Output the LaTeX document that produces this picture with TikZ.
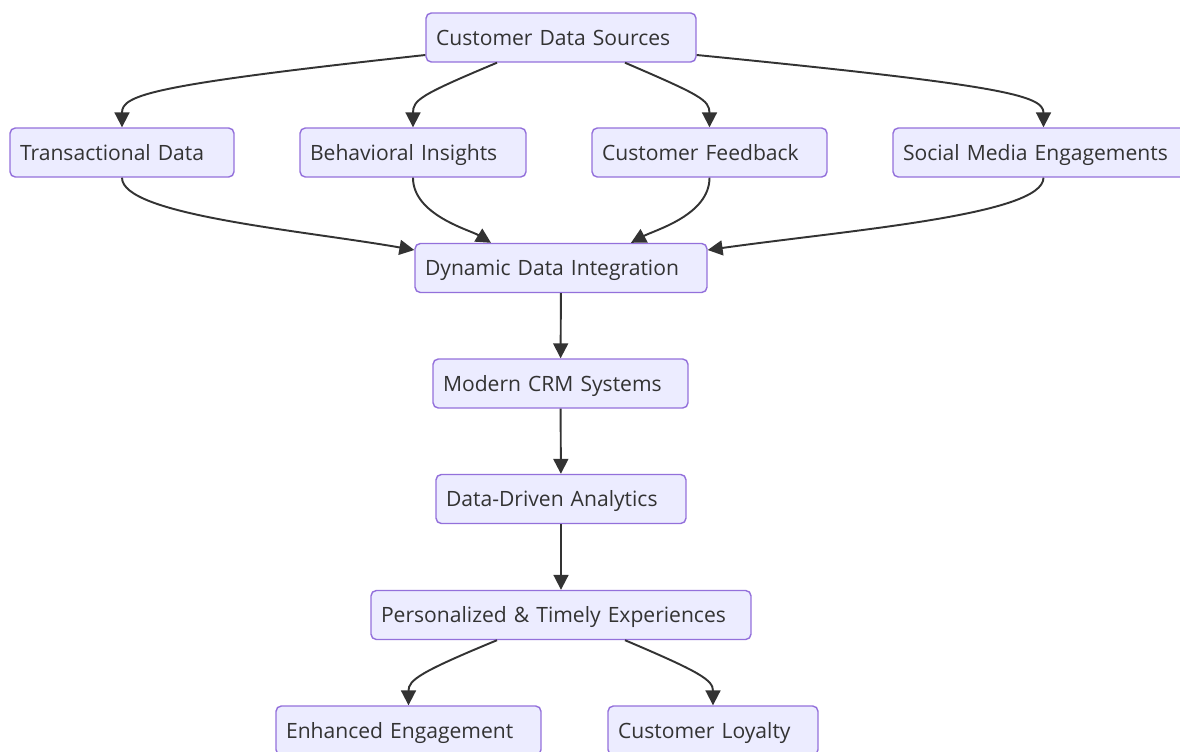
\documentclass[tikz,border=0pt]{standalone}
\usepackage{fontspec}
\setmainfont{Open Sans}
\usepackage{tikz}
\usetikzlibrary{arrows.meta,calc}
\definecolor{boxfill}{HTML}{ECECFF}
\definecolor{boxline}{HTML}{9370DB}
\definecolor{inkgray}{HTML}{333333}

\begin{document}
\begin{tikzpicture}[x=0.02cm, y=-0.02cm,
    blk/.style={rectangle, rounded corners=3pt, draw=boxline, line width=0.8pt, fill=boxfill,
        text=inkgray, font=\fontsize{12}{14}\selectfont, inner xsep=0.2cm, inner ysep=0pt,
        minimum height=0.98cm, align=left, text width=#1, text height=2ex, text depth=0.4ex},
    flow/.style={draw=inkgray, line width=1.1pt, -{Triangle[length=8.5pt, width=8.5pt]}}]
    \useasboundingbox (0,0) rectangle (1180,751);

    % Sources
    \node[blk=5cm] (src) at (561,37.5) {Customer Data Sources};
    \node[blk=4.08cm] (trans) at (122,152.5) {Transactional Data};
    \node[blk=4.12cm] (behav) at (413,152.5) {Behavioral Insights};
    \node[blk=4.3cm] (feed) at (709.5,152.5) {Customer Feedback};
    \node[blk=5.62cm] (social) at (1043.5,152.5) {Social Media Engagements};

    % Pipeline
    \node[blk=5.44cm] (dyn) at (561,268) {Dynamic Data Integration};
    \node[blk=4.7cm] (crm) at (560.5,383.5) {Modern CRM Systems};
    \node[blk=4.6cm] (ana) at (561,499) {Data-Driven Analytics};
    \node[blk=7.2cm] (pers) at (561,615) {Personalized \& Timely Experiences};

    % Outcomes
    \node[blk=4.9cm] (enh) at (408.5,730.5) {Enhanced Engagement};
    \node[blk=3.8cm] (loy) at (713,730.5) {Customer Loyalty};

    % Fan out
    \draw[flow] ([yshift=-0.35cm]src.west) .. controls (150,85) and (122,95) .. (trans.north);
    \draw[flow] ([xshift=-1.28cm]src.south) .. controls (420,95) and (413,100) .. (behav.north);
    \draw[flow] ([xshift=1.28cm]src.south) .. controls (700,95) and (709.5,100) .. (feed.north);
    \draw[flow] ([yshift=-0.35cm]src.east) .. controls (1000,85) and (1043.5,95) .. (social.north);

    % Merge
    \draw[flow] (trans.south) .. controls (122,215) and (300,230) .. ([yshift=0.36cm]dyn.west);
    \draw[flow] (behav.south) .. controls (413,215) and (470,230) .. ([xshift=-1.4cm]dyn.north);
    \draw[flow] (feed.south) .. controls (709.5,215) and (655,230) .. ([xshift=1.4cm]dyn.north);
    \draw[flow] (social.south) .. controls (1043.5,215) and (850,230) .. ([yshift=0.36cm]dyn.east);

    \draw[flow] (dyn) -- (crm);
    \draw[flow] (crm) -- (ana);
    \draw[flow] (ana) -- (pers);

    % Fan out again
    \draw[flow] ([xshift=-1.28cm]pers.south) .. controls (420,672) and (408.5,680) .. (enh.north);
    \draw[flow] ([xshift=1.28cm]pers.south) .. controls (700,672) and (713,680) .. (loy.north);
\end{tikzpicture}
\end{document}
